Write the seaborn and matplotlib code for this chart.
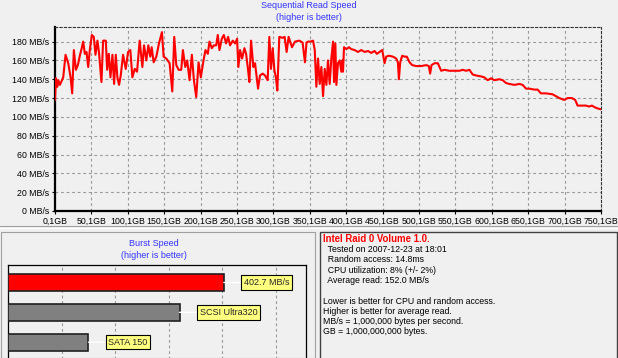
import numpy as np
import pandas as pd
import seaborn as sns
import matplotlib
matplotlib.use("Agg")
import matplotlib.pyplot as plt
from matplotlib.lines import Line2D
from matplotlib.patches import Rectangle

# Sequential read trace (position in GB, speed in MB/s)
position_gb = [
    0.1, 1.4, 3.2, 4.6, 6.8, 11.4, 14.6, 18.3, 21.5, 23.7, 26.0, 28.8, 31.5, 34.2, 36.5,
    38.8, 41.1, 43.4, 45.7, 47.9, 50.7, 53.4, 55.7, 58.4, 60.7, 63.9, 66.2, 69.9, 71.7,
    74.0, 76.3, 79.0, 81.3, 83.6, 85.8, 88.1, 90.4, 93.6, 97.3, 100.5, 103.6, 106.4,
    109.6, 112.8, 116.4, 120.1, 122.4, 125.6, 128.3, 131.0, 132.9, 135.6, 139.3, 142.9,
    147.0, 149.3, 153.0, 157.5, 161.2, 163.9, 166.7, 169.9, 173.5, 175.8, 179.0, 181.7,
    184.9, 188.1, 190.9, 194.1, 197.3, 200.4, 204.1, 206.8, 210.0, 212.3, 215.5, 218.3,
    221.5, 223.7, 226.0, 229.2, 232.0, 235.1, 237.9, 240.6, 244.3, 247.5, 250.2, 252.0,
    254.3, 257.1, 260.3, 262.6, 265.3, 267.1, 269.4, 272.6, 274.9, 277.2, 279.0, 281.7,
    285.4, 288.6, 292.2, 294.5, 296.8, 299.1, 301.4, 303.7, 305.5, 308.2, 312.8, 315.5,
    318.3, 321.0, 325.6, 329.7, 335.6, 340.2, 343.4, 345.6,
    347.7, 350.9, 354.6, 356.9, 359.1, 361.4, 363.7, 366.0, 368.3, 370.6, 372.9, 375.1,
    377.4, 379.7, 382.0, 383.4, 385.2, 386.6, 388.8, 391.1, 393.4, 394.8, 395.7, 397.1,
    400.3, 403.9, 407.1, 411.7, 416.3, 420.8, 425.4, 430.0, 434.5, 439.1, 442.3, 446.0,
    449.6, 452.8, 455.1, 458.8, 464.3, 468.8, 471.1, 472.5, 474.3, 477.0, 480.2, 483.4,
    487.1, 490.8, 496.2, 503.1, 510.0, 513.6, 515.4, 517.3, 521.4, 526.0, 530.5, 535.1,
    541.9, 548.8, 555.7, 560.2, 564.8, 569.4, 573.9, 578.5, 585.4, 589.9, 594.5, 599.1,
    603.6, 610.5, 615.1, 619.6, 624.2, 631.1, 637.9, 642.5, 647.1, 651.6, 658.5, 663.0,
    667.6, 674.5, 683.6, 688.2, 692.8, 699.6, 704.2, 710.1, 714.7, 717.9, 724.7, 729.3,
    733.9, 737.5, 742.1, 745.3, 750.1,
]
read_mbs = [
    118, 141, 132, 139, 134, 142, 166, 157, 142, 125, 171, 150, 155, 165, 172,
    180, 167, 169, 153, 171, 187, 185, 166, 181, 167, 137, 181, 181, 150,
    167, 142, 166, 135, 166, 142, 134, 144, 166, 151, 169, 171, 142,
    151, 148, 181, 153, 176, 160, 176, 164, 174, 158, 164, 178,
    190, 164, 162, 157, 127, 185, 155, 150, 150, 171, 153, 160,
    139, 166, 139, 121, 158, 142, 160, 171, 167, 180, 173, 176,
    176, 187, 171, 183, 187, 178, 185, 176, 181, 178, 183, 153,
    171, 162, 173, 167, 150, 137, 181, 153, 157, 142, 130, 144,
    146, 144, 139, 185, 151, 173, 150, 141, 128, 185, 184, 185,
    169, 185, 174, 180, 181, 179, 158, 179,
    180, 180, 181, 171, 132, 162, 135, 153, 122, 151, 134, 160,
    135, 162, 180, 137, 178, 134, 157, 160, 148, 160, 148, 174,
    172, 174, 172, 171, 169, 171, 169, 170, 168, 170, 167, 169,
    171, 157, 164, 165, 164, 162, 158, 140, 158, 165, 164, 164,
    158, 155, 154, 154, 155, 154, 146, 155, 157, 157, 149, 150,
    149, 149, 149, 150, 149, 150, 145, 144, 143, 142, 139, 141,
    139, 140, 139, 136, 135, 134, 135, 134, 130, 130, 129, 129,
    125, 125, 124, 122, 120, 118, 120, 120, 118, 112, 112, 112,
    111, 112, 110, 109, 108,
]

x_ticks = [0.1 + 50 * i for i in range(16)]
x_labels = [f"{t:.1f}".replace(".", ",") + "GB" for t in x_ticks]
y_ticks = list(range(0, 181, 20))
y_labels = [f"{v} MB/s" for v in y_ticks]

# Burst speed comparison
burst_names = ["This drive", "SCSI Ultra320", "SATA 150"]
burst_mbs = [402.7, 320, 150]
burst_tags = ["402.7 MB/s", "SCSI Ultra320", "SATA 150"]
burst_colors = ["#ff0000", "#808080", "#808080"]

info_title = "Intel Raid 0 Volume 1.0."
info_lines = [
    "  Tested on 2007-12-23 at 18:01",
    "  Random access: 14.8ms",
    "  CPU utilization: 8% (+/- 2%)",
    "  Average read: 152.0 MB/s",
    "",
    "Lower is better for CPU and random access.",
    "Higher is better for average read.",
    "MB/s = 1,000,000 bytes per second.",
    "GB = 1,000,000,000 bytes.",
]

bg = "#f0f0f0"
blue = "#3333ff"
sns.set_theme(style="ticks", rc={"figure.facecolor": bg, "axes.facecolor": bg,
                                 "savefig.facecolor": bg})
plt.rcParams["font.family"] = ["Liberation Sans", "DejaVu Sans"]

W, H = 618, 358
fig = plt.figure(figsize=(W / 100, H / 100), dpi=100)


def box(x0, y0, x1, y1):
    # pixel box (top-left origin) -> figure fraction rect
    return [x0 / W, 1 - y1 / H, (x1 - x0) / W, (y1 - y0) / H]


# ---- sequential read chart ----
ax = fig.add_axes(box(55, 27, 601, 211))
df = pd.DataFrame({"gb": position_gb, "mbs": read_mbs})
sns.lineplot(data=df, x="gb", y="mbs", ax=ax, color="#ff0000", linewidth=1.5,
             estimator=None, sort=False, zorder=3)
ax.set_xlim(0.1, 750.1)
ax.set_ylim(0, 195.5)
ax.set_xticks(x_ticks)
ax.set_xticklabels(x_labels)
ax.set_yticks(y_ticks)
ax.set_yticklabels(y_labels)
ax.set_xlabel("")
ax.set_ylabel("")
ax.tick_params(labelsize=6.3, length=2.5, width=0.8, pad=1.5, colors="black")
ax.grid(True, color="#999999", linestyle=(0, (2.5, 2.5)), linewidth=0.8)
for side in ["left", "bottom"]:
    ax.spines[side].set_color("black")
    ax.spines[side].set_linewidth(1.6)
for side in ["top", "right"]:
    ax.spines[side].set_visible(True)
    ax.spines[side].set_color("#333333")
    ax.spines[side].set_linewidth(0.8)
    ax.spines[side].set_linestyle((0, (2, 2)))

fig.text(309 / W, 1 - 6 / H, "Sequential Read Speed", ha="center", va="center",
         color=blue, fontsize=6.5)
fig.text(309 / W, 1 - 17 / H, "(higher is better)", ha="center", va="center",
         color=blue, fontsize=6.5)

# panel separators
fig.add_artist(Line2D([0, 1], [1 - 226.5 / H] * 2, color="#a0a0a0", lw=0.8))
fig.add_artist(Line2D([0, 1], [1 - 227.5 / H] * 2, color="white", lw=0.8))
fig.add_artist(Rectangle((1 / W, 0), 314 / W, 1 - 232 / H, fill=False,
                         ec="#a0a0a0", lw=0.8))
fig.add_artist(Rectangle((320 / W, -0.01), 297 / W, 1 - 232 / H + 0.01,
                         fill=False, ec="#404040", lw=1.0))

# ---- burst speed bars ----
fig.text(154 / W, 1 - 244 / H, "Burst Speed", ha="center", va="center",
         color=blue, fontsize=6.5)
fig.text(154 / W, 1 - 255 / H, "(higher is better)", ha="center", va="center",
         color=blue, fontsize=6.5)

bx = fig.add_axes(box(8, 265, 306, 375))
bdf = pd.DataFrame({"name": burst_names, "mbs": burst_mbs})
sns.barplot(data=bdf, x="mbs", y="name", hue="name", palette=burst_colors,
            legend=False, ax=bx, orient="h", width=0.57, edgecolor="#202020",
            linewidth=1.2, saturation=1, zorder=3)
bx.set_xlim(0, 556)
bx.set_ylim(3.1, -0.587)
bx.set_xticks([100, 200, 300, 400, 500])
bx.set_yticks([])
bx.set_xticklabels([])
bx.tick_params(length=0)
bx.set_xlabel("")
bx.set_ylabel("")
bx.grid(True, axis="x", color="#999999", linestyle=(0, (2.5, 2.5)), linewidth=0.8)
for s in bx.spines.values():
    s.set_visible(True)
    s.set_color("black")
    s.set_linewidth(0.9)
for i, (v, tag) in enumerate(zip(burst_mbs, burst_tags)):
    bx.annotate(tag, xy=(v, i), xytext=(20, 0), textcoords="offset pixels",
                ha="left", va="center", fontsize=6.5, zorder=5,
                bbox=dict(boxstyle="square,pad=0.3", fc="#ffff80", ec="black", lw=0.8),
                arrowprops=dict(arrowstyle="-", color="white", lw=1.0,
                                shrinkA=0, shrinkB=0))

# ---- info text ----
fig.text(323 / W, 1 - 239 / H, info_title, ha="left", va="center",
         color="#ff0000", fontsize=6.9, fontweight="bold")
for k, line in enumerate(info_lines):
    fig.text(323 / W, 1 - (249.5 + 10.3 * k) / H, line, ha="left", va="center",
             color="black", fontsize=6.3)

fig.savefig("out.png", dpi=100)
